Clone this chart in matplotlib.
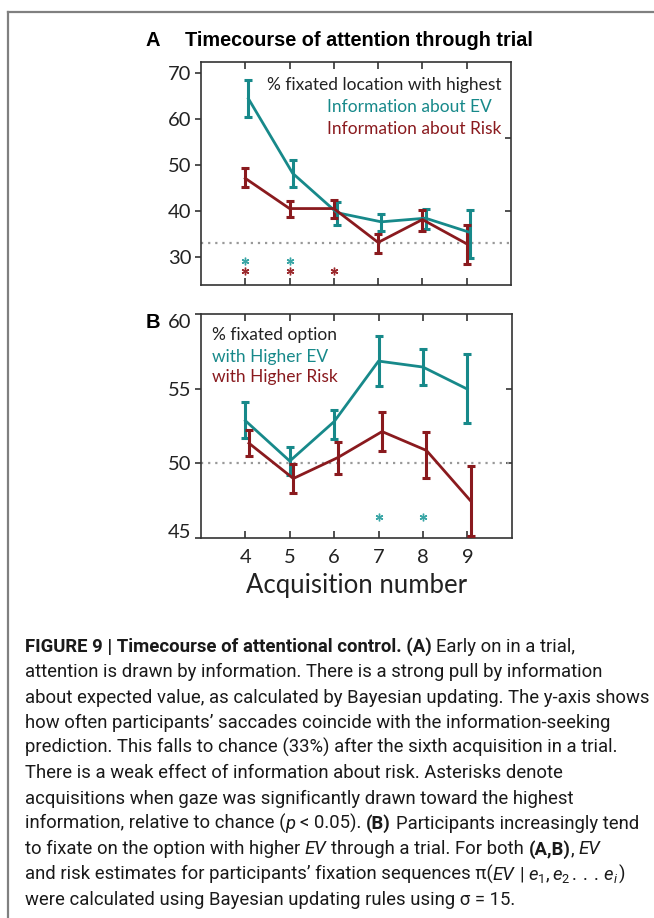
import numpy as np
import matplotlib
matplotlib.use("Agg")
import matplotlib.pyplot as plt
from matplotlib.lines import Line2D

# acquisition number (x axis)
acq = np.array([4, 5, 6, 7, 8, 9])

# panel A: % fixated location with highest information
ev_a = np.array([64.5, 48.2, 39.6, 37.6, 38.4, 35.3])
ev_a_lo = np.array([60.5, 45.3, 36.9, 35.6, 36.0, 29.8])
ev_a_hi = np.array([68.5, 51.1, 41.9, 39.3, 40.4, 40.2])
risk_a = np.array([47.1, 40.5, 40.5, 33.1, 38.1, 32.8])
risk_a_lo = np.array([45.3, 38.7, 38.5, 30.9, 35.6, 28.3])
risk_a_hi = np.array([49.3, 42.1, 42.4, 34.9, 40.2, 36.9])
chance_a = 33
sig_ev_a = [4, 5]
sig_risk_a = [4, 5, 6]

# panel B: % fixated option with higher EV / risk
ev_b = np.array([52.84, 50.13, 52.78, 56.84, 56.44, 54.96])
ev_b_lo = np.array([51.67, 49.18, 51.62, 55.18, 55.22, 52.67])
ev_b_hi = np.array([54.11, 51.07, 53.56, 58.51, 57.67, 57.29])
risk_b = np.array([51.33, 48.96, 50.36, 52.11, 50.84, 47.44])
risk_b_lo = np.array([50.47, 47.96, 49.29, 50.78, 48.96, 45.11])
risk_b_hi = np.array([52.22, 49.91, 51.44, 53.40, 52.11, 49.80])
chance_b = 50
sig_ev_b = [7, 8]

teal = "#17898a"
red = "#8a1a1e"
teal_star = "#3aa6a6"
red_star = "#9c2a2e"
font = ["Lato", "DejaVu Sans"]

W, H = 654, 918
fig = plt.figure(figsize=(W / 100, H / 100), dpi=100)

def axbox(l, t, r, b):
    return [l / W, 1 - b / H, (r - l) / W, (b - t) / H]

def style(ax, ylim, yt, right_ticks):
    ax.set_xlim(3, 10)
    ax.set_ylim(*ylim)
    ax.set_xticks(acq)
    ax.set_yticks(yt)
    ax.tick_params(axis="x", direction="in", top=True, length=5, width=1.1,
                   labelsize=14.5, pad=8, color="#222222")
    ax.tick_params(axis="y", direction="out", length=4, width=1.1,
                   labelsize=14.5, pad=3, color="#222222")
    for s in ax.spines.values():
        s.set_linewidth(1.2)
        s.set_color("#333333")
    sec = ax.secondary_yaxis("right")
    sec.set_yticks(right_ticks)
    sec.tick_params(direction="in", length=4, width=1.1, labelright=False, color="#222222")
    sec.spines["right"].set_visible(False)
    for lab in ax.get_xticklabels() + ax.get_yticklabels():
        lab.set_family(font)
        lab.set_color("#222222")

def series(ax, x, y, lo, hi, c):
    ax.errorbar(x, y, yerr=[y - lo, hi - y], color=c, lw=2.0, elinewidth=2.2,
                capsize=3, capthick=2.2, zorder=3)

def stars(ax, xs, level, c):
    ax.plot(xs, [level] * len(xs), ls="none", marker=(6, 2, 0), ms=5.5, mew=1.0,
            color=c, clip_on=False)

# ---- panel A
axa = fig.add_axes(axbox(201, 62, 511, 285.5))
axa.axhline(chance_a, color="#999999", lw=1.6, ls=(0, (1, 2.2)), zorder=1)
series(axa, acq + 0.07, ev_a, ev_a_lo, ev_a_hi, teal)
series(axa, acq, risk_a, risk_a_lo, risk_a_hi, red)
stars(axa, sig_ev_a, 29.0, teal_star)
stars(axa, sig_risk_a, 26.9, red_star)
style(axa, (23.7, 72.5), [30, 40, 50, 60, 70], [40, 56])
axa.set_xticklabels([])
axa.text(0.97, 0.897, "% fixated location with highest", transform=axa.transAxes,
         ha="right", va="center", fontsize=12.5, family=font, color="#222222")
axa.text(0.938, 0.799, "Information about EV", transform=axa.transAxes,
         ha="right", va="center", fontsize=12.5, family=font, color=teal)
axa.text(0.97, 0.70, "Information about Risk", transform=axa.transAxes,
         ha="right", va="center", fontsize=12.5, family=font, color=red)

fig.text(146 / W, 1 - 40 / H, "A", ha="left", va="center", fontsize=14.5,
         fontweight="bold", family="Liberation Sans")
fig.text(185 / W, 1 - 40 / H, "Timecourse of attention through trial", ha="left",
         va="center", fontsize=14.3, fontweight="bold", family="Liberation Sans")

# ---- panel B
axb = fig.add_axes(axbox(201, 314, 511.7, 537.5))
axb.axhline(chance_b, color="#999999", lw=1.6, ls=(0, (1, 2.2)), zorder=1)
series(axb, acq, ev_b, ev_b_lo, ev_b_hi, teal)
series(axb, acq + 0.08, risk_b, risk_b_lo, risk_b_hi, red)
stars(axb, sig_ev_b, 46.4, teal_star)
style(axb, (45, 60), [45, 50, 55, 60], [50, 55])
ylabs = axb.get_yticklabels()
ylabs[0].set_va("baseline")
ylabs[-1].set_va("top")
axb.set_xlabel("Acquisition number", fontsize=18.5, family=font, color="#222222", va="top")
axb.xaxis.set_label_coords(0.5, -0.160)
axb.text(0.034, 0.906, "% fixated option", transform=axb.transAxes,
         ha="left", va="center", fontsize=12.5, family=font, color="#222222")
axb.text(0.034, 0.809, "with Higher EV", transform=axb.transAxes,
         ha="left", va="center", fontsize=12.5, family=font, color=teal)
axb.text(0.034, 0.718, "with Higher Risk", transform=axb.transAxes,
         ha="left", va="center", fontsize=12.5, family=font, color=red)
fig.text(146 / W, 1 - 322 / H, "B", ha="left", va="center", fontsize=14.5,
         fontweight="bold", family="Liberation Sans")

# ---- frame lines
fig.add_artist(Line2D([8 / W, 1], [1 - 12 / H, 1 - 12 / H], color="#808080", lw=1.6))
fig.add_artist(Line2D([8 / W, 8 / W], [0, 1 - 12 / H], color="#808080", lw=1.6))

# ---- caption
plt.rcParams["mathtext.fontset"] = "custom"
plt.rcParams["mathtext.rm"] = "Roboto:weight=regular"
plt.rcParams["mathtext.it"] = "Roboto:style=italic:weight=regular"
cap_font = ["Roboto", "DejaVu Sans"]
n, b, i = "n", "b", "i"
caption = [
    [("FIGURE 9 | Timecourse of attentional control. (A)", b), (" Early on in a trial,", n)],
    [("attention is drawn by information. There is a strong pull by information", n)],
    [("about expected value, as calculated by Bayesian updating. The y-axis shows", n)],
    [("how often participants\u2019 saccades coincide with the information-seeking", n)],
    [("prediction. This falls to chance (33%) after the sixth acquisition in a trial.", n)],
    [("There is a weak effect of information about risk. Asterisks denote", n)],
    [("acquisitions when gaze was significantly drawn toward the highest", n)],
    [("information, relative to chance (", n), ("p", i), (" < 0.05). ", n), ("(B)", b),
     (" Participants increasingly tend", n)],
    [("to fixate on the option with higher ", n), ("EV", i), (" through a trial. For both ", n),
     ("(A,B)", b), (", ", n), ("EV", i)],
    [("and risk estimates for participants\u2019 fixation sequences \u03c0(", n), ("EV", i),
     (" | ", n), (r"$e_1, e_2\,.\,.\,.\,e_i$", n), (")", n)],
    [("were calculated using Bayesian updating rules using \u03c3 = 15.", n)],
]

renderer = fig.canvas.get_renderer()

def weight(kind):
    return "bold" if kind == b else "normal"

def width(txt, size, kind):
    t = fig.text(0, 0, txt, transform=None, fontsize=size, family=cap_font,
                 fontweight=weight(kind),
                 fontstyle="italic" if kind == i else "normal")
    w = t.get_window_extent(renderer).width
    t.remove()
    return w

size = 14
scale = 625 / width(caption[2][0][0], size, n)
size = size * scale
space = width("a a", size, n) - width("aa", size, n)

y0 = 652
for k, runs in enumerate(caption):
    x = 25
    y = H - (y0 + k * 25.3)
    for txt, kind in runs:
        lead = len(txt) - len(txt.lstrip(" "))
        trail = len(txt) - len(txt.rstrip(" "))
        x += lead * space
        core = txt.strip(" ")
        t = fig.text(x, y, core, transform=None, fontsize=size, family=cap_font,
                     fontweight=weight(kind),
                     fontstyle="italic" if kind == i else "normal",
                     color="#1a1a1a", va="baseline")
        x = t.get_window_extent(renderer).x1 + trail * space

fig.savefig("out.png", dpi=100)
